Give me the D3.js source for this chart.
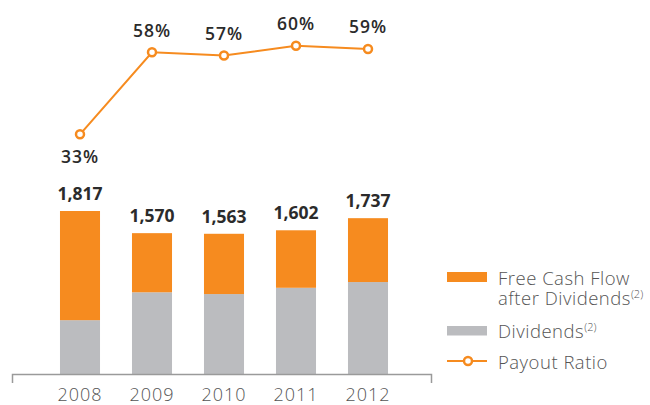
<!DOCTYPE html>
<html><head><meta charset="utf-8">
<script src="https://cdn.jsdelivr.net/npm/d3@7"></script>
<style>
html,body{margin:0;padding:0;background:#fff;}
svg{display:block;}
</style></head>
<body>
<svg id="chart" width="650" height="405"></svg>
<script>
const years = ["2008","2009","2010","2011","2012"];
const totals = [1817, 1570, 1563, 1602, 1737];
const dividends = [600, 911, 891, 961, 1025];
const payout = [33, 58, 57, 60, 59];
const totalLabels = ["1,817","1,570","1,563","1,602","1,737"];

const orange = "#F68B1F", gray = "#BBBCBF", dark = "#2b2b2b";
const font = "'Open Sans', sans-serif";
const svg = d3.select("#chart");

const x = d3.scaleBand().domain(years).range([44, 404]).paddingInner(0.444).paddingOuter(0.222);
const y = d3.scaleLinear().domain([0, 1817]).range([374, 211]);
const yp = d3.scaleLinear().domain([33, 60]).range([134.3, 45.7]);

const data = years.map((yr, i) => ({yr, total: totals[i], div: dividends[i], p: payout[i], lab: totalLabels[i]}));

// bars
svg.selectAll("rect.div").data(data).join("rect")
  .attr("x", d => x(d.yr)).attr("width", x.bandwidth())
  .attr("y", d => y(d.div)).attr("height", d => y(0) - y(d.div))
  .attr("fill", gray);
svg.selectAll("rect.fcf").data(data).join("rect")
  .attr("x", d => x(d.yr)).attr("width", x.bandwidth())
  .attr("y", d => y(d.total)).attr("height", d => y(d.div) - y(d.total))
  .attr("fill", orange);

// total labels
svg.selectAll("text.tot").data(data).join("text")
  .attr("x", d => x(d.yr) + x.bandwidth()/2).attr("y", d => y(d.total) - 11)
  .attr("text-anchor", "middle").attr("font-family", font).attr("font-weight", 700)
  .attr("font-size", 17.5).attr("fill", dark).text(d => d.lab);

// axis
const axis = d3.axisBottom(x).tickSize(0).tickPadding(13);
const gA = svg.append("g").attr("transform", "translate(0,374)").call(axis);
gA.select(".domain").remove();
gA.selectAll("text").attr("font-family", font).attr("font-weight", 300)
  .attr("font-size", 18).attr("letter-spacing", 1).attr("fill", "#555").attr("dy", "0.75em");
svg.append("path").attr("d", "M12.5,383V374.5H431.5V383").attr("fill", "none")
  .attr("stroke", "#9a9a9a").attr("stroke-width", 1.5);

// payout line
const cx = d => x(d.yr) + x.bandwidth()/2;
svg.append("path").datum(data)
  .attr("d", d3.line().x(cx).y(d => yp(d.p)))
  .attr("fill", "none").attr("stroke", orange).attr("stroke-width", 2);
svg.selectAll("circle.pt").data(data).join("circle")
  .attr("cx", cx).attr("cy", d => yp(d.p)).attr("r", 4)
  .attr("fill", "#fff").attr("stroke", orange).attr("stroke-width", 2.5);
svg.selectAll("text.pct").data(data).join("text")
  .attr("x", cx).attr("y", (d, i) => i === 0 ? yp(d.p) + 28.5 : yp(d.p) - 15.5)
  .attr("text-anchor", "middle").attr("font-family", font).attr("font-weight", 600)
  .attr("font-size", 17.5).attr("letter-spacing", 1).attr("fill", dark).text(d => d.p + "%");

// legend
const lg = svg.append("g").attr("font-family", font).attr("font-weight", 300).attr("fill", "#555")
  .attr("letter-spacing", 0.5);
lg.append("rect").attr("x", 447).attr("y", 272).attr("width", 40).attr("height", 10).attr("fill", orange);
const t1 = lg.append("text").attr("x", 498).attr("y", 284.5).attr("font-size", 18.5);
t1.append("tspan").text("Free Cash Flow");
t1.append("tspan").attr("x", 498).attr("y", 304.5).text("after Dividends");
t1.append("tspan").attr("font-size", 11).attr("dy", -7).attr("letter-spacing", 0).text("(2)");
lg.append("rect").attr("x", 447).attr("y", 326).attr("width", 40).attr("height", 9.5).attr("fill", gray);
const t3 = lg.append("text").attr("x", 498).attr("y", 337.5).attr("font-size", 18.5);
t3.append("tspan").text("Dividends");
t3.append("tspan").attr("font-size", 11).attr("dy", -7).attr("letter-spacing", 0).text("(2)");
lg.append("line").attr("x1", 447).attr("x2", 487).attr("y1", 361).attr("y2", 361)
  .attr("stroke", orange).attr("stroke-width", 2);
lg.append("circle").attr("cx", 468).attr("cy", 361).attr("r", 4)
  .attr("fill", "#fff").attr("stroke", orange).attr("stroke-width", 2.5);
lg.append("text").attr("x", 498).attr("y", 369).attr("font-size", 18.5).text("Payout Ratio");
</script>
</body></html>
